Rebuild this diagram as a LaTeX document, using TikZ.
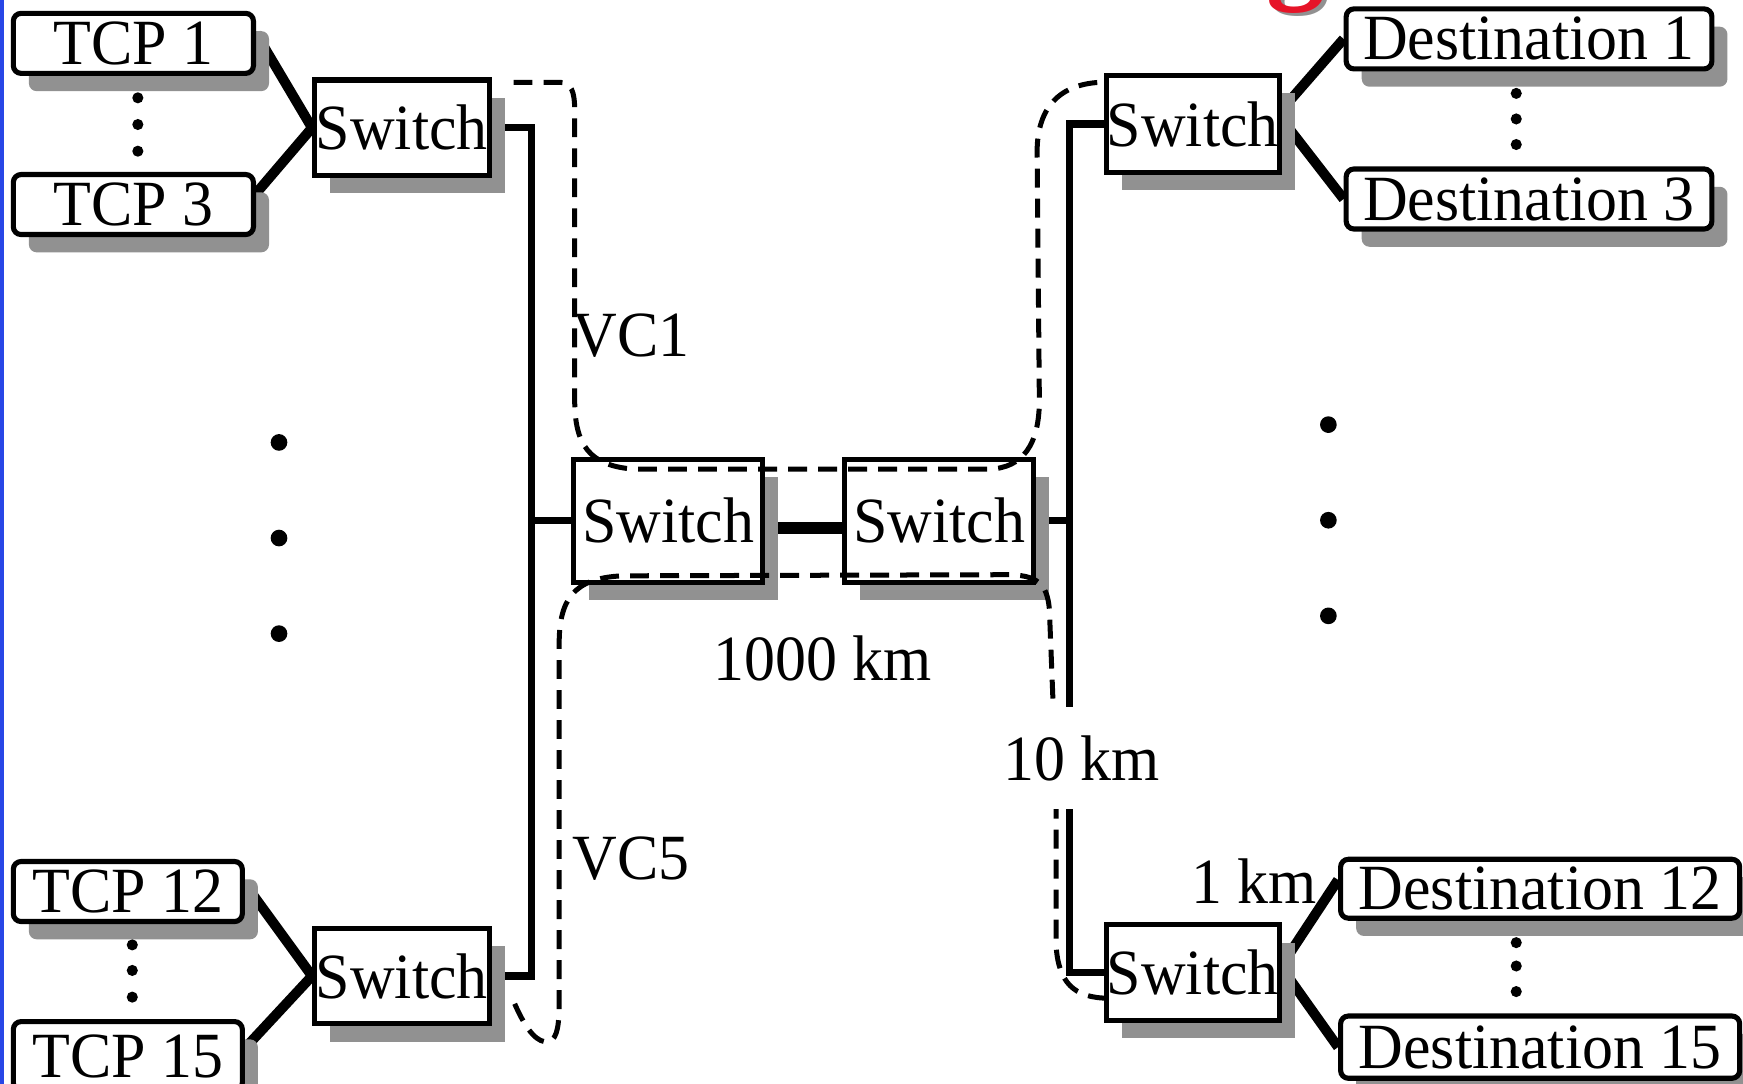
\documentclass[tikz,border=0pt]{standalone}
\usepackage{fontspec}
\setmainfont[FakeStretch=0.96]{Liberation Serif}
\usetikzlibrary{shadows,calc}
\pgfdeclarelayer{bg}
\pgfsetlayers{bg,main}
\definecolor{shgray}{RGB}{145,145,145}
\definecolor{edgeblue}{RGB}{40,70,230}
\definecolor{titlered}{RGB}{230,20,40}
\tikzset{
  basebox/.style={draw=black, line width=4.6pt, fill=white, inner sep=0pt,
    font=\fontsize{58}{62}\selectfont,
    drop shadow={shadow xshift=14pt, shadow yshift=-16pt, fill=shgray, opacity=1}},
  hostbox/.style={basebox, rounded corners=7pt},
  switchbox/.style={basebox},
  link/.style={line width=9pt, line join=bevel},
  bus/.style={line width=6.5pt},
  trunk/.style={line width=11pt},
  vcpath/.style={line width=4.5pt, dash pattern=on 17pt off 10pt},
  lbl/.style={font=\fontsize{58}{62}\selectfont, inner sep=0pt},
}
\begin{document}
\begin{tikzpicture}[x=1pt,y=-1pt]
\useasboundingbox (0,0) rectangle (1568,975);

% partial red title letter at the top
\node[font=\fontsize{110}{120}\selectfont\bfseries, text=shgray, anchor=base, inner sep=0pt] (gshadow) at (1169,-9) {g};
\node[font=\fontsize{110}{120}\selectfont\bfseries, text=titlered, anchor=base, inner sep=0pt] (gtitle) at (1166,-12) {g};

% hosts
\node[hostbox, minimum width=216pt, minimum height=54pt] (t1) at (120,39) {TCP 1};
\node[hostbox, minimum width=216pt, minimum height=54pt] (t3) at (120,184) {TCP 3};
\node[hostbox, minimum width=206pt, minimum height=54pt] (t12) at (115,802) {TCP 12};
\node[hostbox, minimum width=206pt, minimum height=62pt] (t15) at (115,950) {TCP 15};

\node[hostbox, minimum width=329pt, minimum height=54pt] (d1) at (1375.5,35) {Destination 1};
\node[hostbox, minimum width=329pt, minimum height=54pt] (d3) at (1375.5,179) {Destination 3};
\node[hostbox, minimum width=359pt, minimum height=53pt] (d12) at (1385.5,799.5) {Destination 12};
\node[hostbox, minimum width=359pt, minimum height=56pt] (d15) at (1385.5,942) {Destination 15};

% switches
\node[switchbox, minimum width=157pt, minimum height=86pt] (sw1) at (361.5,115) {Switch};
\node[switchbox, minimum width=157pt, minimum height=86pt] (sw4) at (361.5,878) {Switch};
\node[switchbox, minimum width=170pt, minimum height=111pt] (swm1) at (601,468.5) {Switch};
\node[switchbox, minimum width=170pt, minimum height=111pt] (swm2) at (845,468.5) {Switch};
\node[switchbox, minimum width=156pt, minimum height=87pt] (sw2) at (1073,111.5) {Switch};
\node[switchbox, minimum width=156pt, minimum height=86pt] (sw3) at (1073,875) {Switch};

% bus corner points
\coordinate (lt) at (478,115);
\coordinate (lm) at (478,468.5);
\coordinate (lb) at (478,878);
\coordinate (rt) at (962,111.5);
\coordinate (rm) at (962,468.5);
\coordinate (rb) at (962,875);

\begin{pgfonlayer}{bg}
  \draw[link] ([yshift=9pt]t1.east) -- (sw1.west) -- ([yshift=10pt]t3.east);
  \draw[link] ([yshift=7pt]t12.east) -- (sw4.west) -- ([yshift=7pt]t15.east);
  \draw[link] ([yshift=13pt]sw2.east) -- (d1.west);
  \draw[link] ([yshift=4pt]sw2.east) -- (d3.west);
  \draw[link] ([yshift=7pt]sw3.east) -- ([yshift=8pt]d12.west);
  \draw[link] ([yshift=4pt]sw3.east) -- (d15.west);
  \draw[bus] (sw1.east) -- (lt) -- (lb) -- (sw4.east);
  \draw[bus] (lm) -- (swm1.west);
  \draw[bus] (sw2.west) -- (rt) -- (rb) -- (sw3.west);
  \draw[bus] (swm2.east) -- (rm);
  \draw[trunk] ([yshift=-6.5pt]swm1.east) -- ([yshift=-6.5pt]swm2.west);
\end{pgfonlayer}

% ellipsis dots
\foreach \yy in {88,112,136} \fill (124,\yy) circle (5);
\foreach \yy in {850,873,897} \fill (119,\yy) circle (5);
\foreach \yy in {84,107,130} \fill (1364,\yy) circle (5);
\foreach \yy in {848,869,892} \fill (1364,\yy) circle (5);
\foreach \yy in {398,484,570} \fill (251,\yy) circle (7.5);
\foreach \yy in {382,468,554} \fill (1195,\yy) circle (7.5);

% virtual circuits
\draw[vcpath] (462,74) -- (503,74) .. controls (514,74) and (517,82) .. (517,100)
  -- (517,360) .. controls (517,400) and (530,419) .. (570,422)
  -- (890,422) .. controls (920,421) and (935,400) .. (935,360)
  -- (933,140) .. controls (932,100) and (950,76) .. (990,74);
\draw[vcpath] (463,903) .. controls (474,928) and (484,939) .. (494,937)
  .. controls (502,934) and (503,920) .. (503,900)
  -- (503,580) .. controls (503,540) and (515,520) .. (560,518)
  -- (905,517) .. controls (933,517) and (942,525) .. (944,548)
  -- (950,700) -- (950,850) .. controls (952,884) and (966,898) .. (998,898);

% labels
\node[lbl] (vc1) at (568,302) {VC1};
\node[lbl] (vc5) at (568,772) {VC5};
\node[lbl] (km1000) at (740,592) {1000 km};
\node[lbl, fill=white, inner xsep=2pt, minimum height=92pt] (km10) at (973,682) {10 km};
\node[lbl] (km1) at (1128,793) {1 km};

% left blue edge
\fill[edgeblue] (0,0) rectangle (3.5,975);
\end{tikzpicture}
\end{document}
